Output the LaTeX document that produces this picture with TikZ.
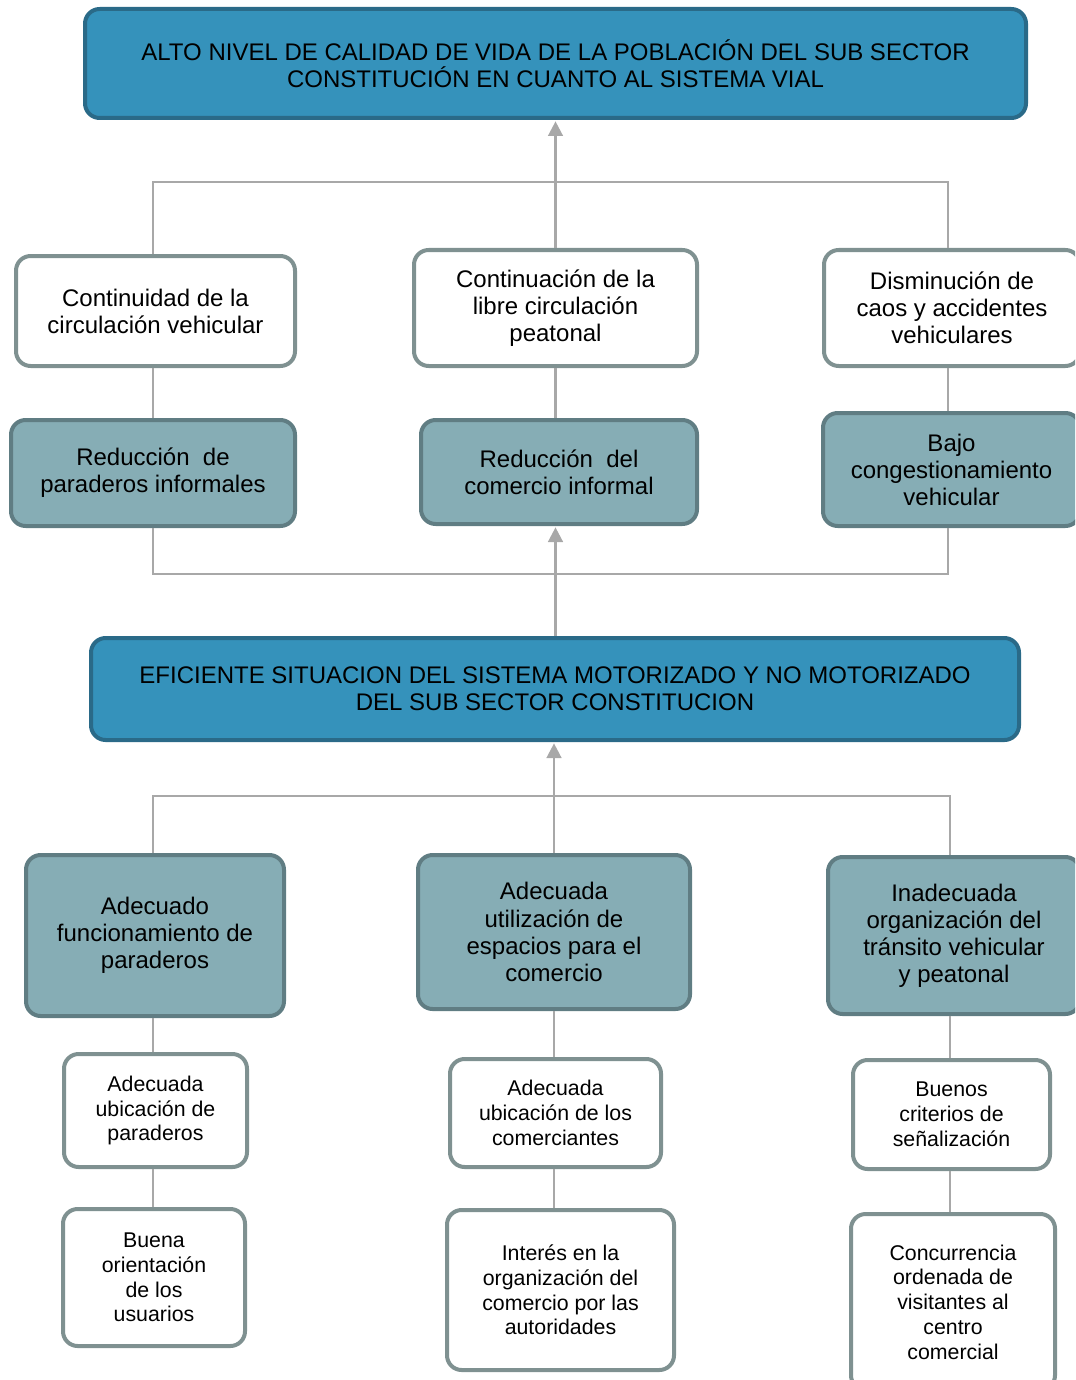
\documentclass[tikz,border=0pt]{standalone}
\usepackage{fontspec}
\setmainfont{Liberation Sans}
\usetikzlibrary{arrows.meta}
\definecolor{topfill}{HTML}{3592BB}
\definecolor{topline}{HTML}{2A6A88}
\definecolor{tealfill}{HTML}{86ADB5}
\definecolor{tealline}{HTML}{607D83}
\definecolor{plainline}{HTML}{7F9191}
\definecolor{linkgray}{HTML}{A8A8A8}
\tikzset{
  box/.style={rounded corners=11pt, line width=3pt, align=center, inner sep=0pt,
    font=\fontsize{18}{20.3}\selectfont},
  goal/.style={box, fill=topfill, draw=topline},
  teal/.style={box, fill=tealfill, draw=tealline},
  plain/.style={box, fill=white, draw=plainline},
  small/.style={font=\fontsize{16}{18.6}\selectfont},
  link/.style={draw=linkgray, line width=1.8pt},
  up/.style={link, -{Triangle[width=11pt,length=11pt]}, shorten >=1pt}
}
% box from its outer corners (x1,y1) (x2,y2), in pixel units
\newcommand\mkbox[7]{%
  \pgfmathsetmacro\cx{(#3+#5)/2}\pgfmathsetmacro\cy{(#4+#6)/2}%
  \pgfmathsetmacro\bw{(#5-#3-4)*0.75}\pgfmathsetmacro\bh{(#6-#4-4)*0.75}%
  \node[#1, minimum width=\bw pt, minimum height=\bh pt] (#2) at (\cx,\cy) {#7};}
\begin{document}
\begin{tikzpicture}[x=0.75pt, y=-0.75pt]
\useasboundingbox (0,0) rectangle (1075,1380);
\clip (0,0) rectangle (1075,1380);

% goals
\mkbox{goal}{top}{83}{7}{1028}{120}{ALTO NIVEL DE CALIDAD DE VIDA DE LA POBLACIÓN DEL SUB SECTOR\\CONSTITUCIÓN EN CUANTO AL SISTEMA VIAL}
\mkbox{goal}{mid}{89}{636}{1021}{742}{EFICIENTE SITUACION DEL SISTEMA MOTORIZADO Y NO MOTORIZADO\\DEL SUB SECTOR CONSTITUCION}

% ends
\mkbox{plain}{a1}{14}{254}{297}{368}{Continuidad de la\\circulación vehicular}
\mkbox{plain}{a2}{412}{248}{699}{368}{Continuación de la\\libre circulación\\peatonal}
\mkbox{plain}{a3}{822}{248}{1082}{368}{Disminución de\\caos y accidentes\\vehiculares}

\mkbox{teal}{b1}{9}{418}{297}{528}{Reducción\ \ de\\paraderos informales}
\mkbox{teal}{b2}{419}{418}{699}{526}{Reducción\ \ del\\comercio informal}
\mkbox{teal}{b3}{821}{411}{1082}{528}{Bajo\\congestionamiento\\vehicular}

% means
\mkbox{teal}{c1}{24}{853}{286}{1018}{Adecuado\\funcionamiento de\\paraderos}
\mkbox{teal}{c2}{416}{853}{692}{1011}{Adecuada\\utilización de\\espacios para el\\comercio}
\mkbox{teal}{c3}{826}{855}{1082}{1016}{Inadecuada\\organización del\\tránsito vehicular\\y peatonal}

\mkbox{plain, small}{d1}{62}{1052}{249}{1169}{Adecuada\\ubicación de\\paraderos}
\mkbox{plain, small}{d2}{448}{1057}{663}{1169}{Adecuada\\ubicación de los\\comerciantes}
\mkbox{plain, small}{d3}{851}{1058}{1052}{1171}{Buenos\\criterios de\\señalización}

\mkbox{plain, small}{e1}{61}{1207}{247}{1348}{Buena\\orientación\\de los\\usuarios}
\mkbox{plain, small}{e2}{445}{1208}{676}{1372}{Interés en la\\organización del\\comercio por las\\autoridades}
\mkbox{plain, small}{e3}{849}{1212}{1057}{1392}{Concurrencia\\ordenada de\\visitantes al\\centro\\comercial}

% junction points
\coordinate (t1) at (153,182);
\coordinate (t3) at (948,182);
\coordinate (m1) at (153,574);
\coordinate (m3) at (948,574);
\coordinate (u1) at (153,796);
\coordinate (u3) at (950,796);
\coordinate (k2) at (554,0);

% upper tree
\draw[link] (a1.north -| t1) -- (t1) -- (t3) -- (a3.north -| t3);
\draw[up] (a2.north) -- (top.south);
\draw[link] (a1.south -| t1) -- (b1.north -| t1);
\draw[link] (a2.south) -- (b2.north -| a2.south);
\draw[link] (a3.south -| t3) -- (b3.north -| t3);
\draw[link] (b1.south -| m1) -- (m1) -- (m3) -- (b3.south -| m3);
\draw[up] (mid.north -| a2.south) -- (b2.south -| a2.south);

% lower tree
\draw[link] (c1.north -| u1) -- (u1) -- (u3) -- (c3.north -| u3);
\draw[up] (c2.north -| k2) -- (mid.south -| k2);
\draw[link] (c1.south -| u1) -- (d1.north -| u1);
\draw[link] (d1.south -| u1) -- (e1.north -| u1);
\draw[link] (c2.south -| k2) -- (d2.north -| k2);
\draw[link] (d2.south -| k2) -- (e2.north -| k2);
\draw[link] (c3.south -| u3) -- (d3.north -| u3);
\draw[link] (d3.south -| u3) -- (e3.north -| u3);
\end{tikzpicture}
\end{document}
